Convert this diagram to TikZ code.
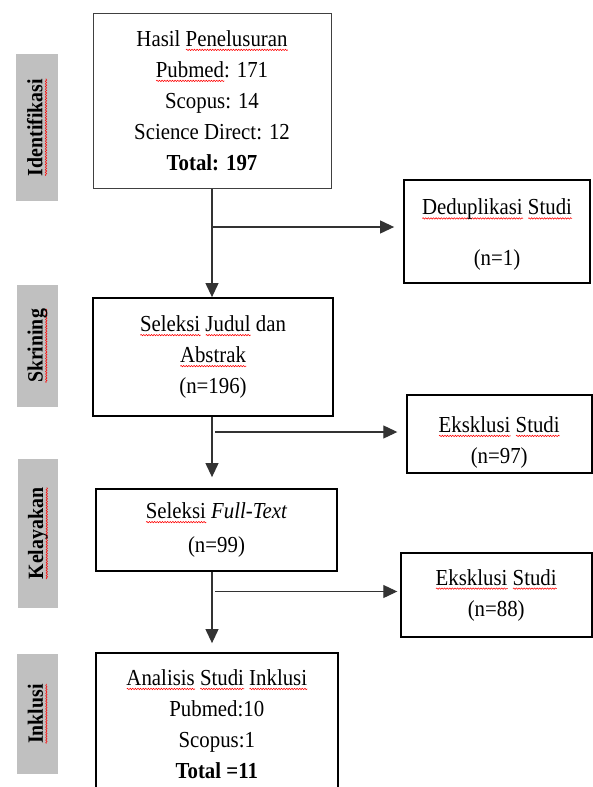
\documentclass[tikz,border=0pt]{standalone}
\usepackage{fontspec}
\setmainfont{Liberation Serif}[FakeStretch=0.91]
\usetikzlibrary{arrows.meta,decorations.pathmorphing}
\newsavebox\sqbox
\newcommand\sq[1]{\sbox\sqbox{#1}\rlap{\tikz[baseline=0pt, reset cm]{\draw[red, line width=0.55pt, decorate,
  decoration={snake, amplitude=0.7pt, segment length=2.6pt}] (0pt,-3.6pt) -- (\the\wd\sqbox,-3.6pt);}}\usebox\sqbox}
\definecolor{lblgray}{HTML}{C0C0C0}
\begin{document}
\begin{tikzpicture}[x=1pt,y=-1pt,
  box/.style={draw=black, line width=1.8pt, align=center, inner sep=0pt,
    font=\fontsize{22.9}{31}\selectfont},
  thinbox/.style={box, draw=black!75, line width=1pt},
  lbl/.style={fill=lblgray, rotate=90, inner sep=0pt,
    font=\fontsize{21.8}{26}\selectfont\bfseries},
  conn/.style={draw=black!80, line width=1.1pt},
  arr/.style={conn, -{Triangle[length=14pt,width=13pt]}}]
\useasboundingbox (0,0) rectangle (593,787);
\clip (0,0) rectangle (593,787);
\fill[white] (0,0) rectangle (593,787);

% phase labels
\node[lbl, minimum width=147pt, minimum height=42pt] (l1) at (37,127.5) {\sq{Identifikasi}};
\node[lbl, minimum width=122pt, minimum height=41pt] (l2) at (37.5,346) {\sq{Skrining}};
\node[lbl, minimum width=149pt, minimum height=40pt] (l3) at (38,533.5) {\sq{Kelayakan}};
\node[lbl, minimum width=120pt, minimum height=41pt] (l4) at (37.5,714) {\sq{Inklusi}};

% main boxes
\node[thinbox, minimum width=238pt, minimum height=175pt] (b1) at (212,100.5)
  {Hasil \sq{Penelusuran}\\ \sq{Pubmed}: 171\\ Scopus: 14\\ Science Direct: 12\\ \textbf{Total: 197}};
\node[box, minimum width=240pt, minimum height=118pt] (b2) at (213,357)
  {\sq{Seleksi} \sq{Judul} dan\\ \sq{Abstrak}\\ (n=196)};
\node[box, minimum width=241.6pt, minimum height=82pt] (b3) at (216.5,530)
  {\sq{Seleksi} \textit{Full-Text}\\[3pt] (n=99)};
\node[box, minimum width=241.7pt, minimum height=142pt] (b4) at (216.8,724)
  {\sq{Analisis} \sq{Studi} \sq{Inklusi}\\ Pubmed:10\\ Scopus:1\\ \textbf{Total =11}};

% side boxes
\node[box, minimum width=186pt, minimum height=103pt, text height=73.5pt] (dd) at (497,231.5)
  {\sq{Deduplikasi} \sq{Studi}\\[20pt] (n=1)};
\node[box, minimum width=185pt, minimum height=78pt, text height=63.5pt] (e1) at (499.2,434)
  {\sq{Eksklusi} \sq{Studi}\\ (n=97)};
\node[box, minimum width=191pt, minimum height=84pt] (e2) at (496.2,595)
  {\sq{Eksklusi} \sq{Studi}\\ (n=88)};

% junction points
\coordinate (j1) at (212,227);
\coordinate (j2) at (215,432);
\coordinate (j3) at (215,591.5);

% vertical flow
\draw[arr] (b1.south) -- (b1.south |- b2.north);
\draw[arr, shorten >=11pt] (b2.south -| b1.south) -- (b3.north -| b1.south);
\draw[arr, shorten >=9pt] (b3.south -| b1.south) -- (b4.north -| b1.south);

% branches
\draw[arr, shorten >=9pt] (j1) -- (j1 -| dd.west);
\draw[arr, shorten >=8.5pt] (j2) -- (j2 -| e1.west);
\draw[arr, shorten >=2.5pt] (j3) -- (j3 -| e2.west);
\end{tikzpicture}
\end{document}
